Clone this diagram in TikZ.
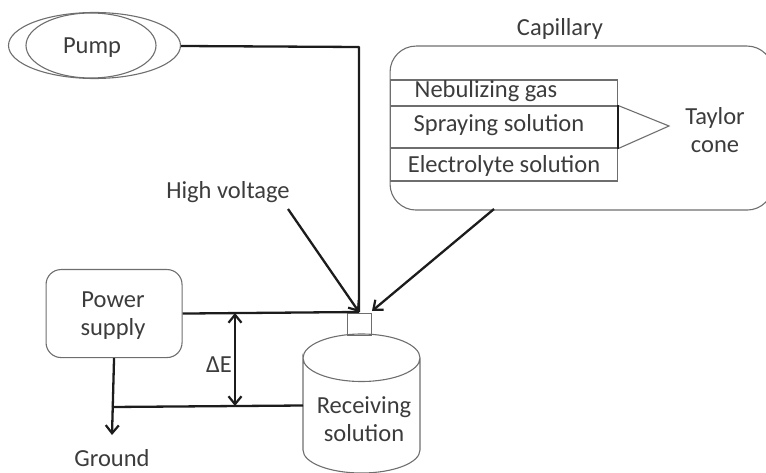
\documentclass[tikz,border=0pt]{standalone}
\usepackage{fontspec}
\setmainfont{Carlito}
\usetikzlibrary{arrows.meta,shapes.geometric}
\definecolor{txt}{HTML}{3C3C3C}
\definecolor{thin}{HTML}{6E6E6E}
\definecolor{heavy}{HTML}{1C1C1C}
\tikzset{
  lbl/.style={text=txt,font=\fontsize{24.5}{28}\selectfont,align=center,inner sep=0pt},
  outline/.style={draw=thin,line width=1.1pt},
  heavyline/.style={draw=heavy,line width=2.3pt},
  tip/.style={heavyline,-{Straight Barb[length=8pt,width=13pt,line width=2.2pt]}},
  tiptwo/.style={heavyline,{Straight Barb[length=8pt,width=13pt,line width=2.2pt]}-{Straight Barb[length=8pt,width=13pt,line width=2.2pt]}},
  pumpell/.style={outline,ellipse,minimum width=0pt,inner sep=0pt},
  wire/.style={heavyline,line join=round}
}
\begin{document}
\begin{tikzpicture}[x=1pt,y=-1pt]
\useasboundingbox (0,0) rectangle (766,473);
\clip (0,0) rectangle (766,473);
% pump
\node[pumpell,minimum width=172pt,minimum height=66pt] (pumpouter) at (94.5,45.5) {};
\node[pumpell,minimum width=130pt,minimum height=65pt] (pumpinner) at (91,45.5) {};
\node[lbl] (pumplabel) at (92,48) {Pump};
% capillary
\node[outline,rectangle,rounded corners=26pt,minimum width=383pt,minimum height=164pt,anchor=north west] (capbox) at (389.5,45.5) {};
\node[lbl] (caplabel) at (560,29) {Capillary};
\node[outline,rectangle,minimum width=227.5pt,minimum height=26pt,anchor=north west] (gas) at (389.5,79.5) {};
\node[outline,rectangle,minimum width=227.5pt,minimum height=42pt,anchor=north west] (spray) at (389.5,105.5) {};
\node[outline,rectangle,minimum width=227.5pt,minimum height=33pt,anchor=north west] (electro) at (389.5,147.5) {};
\node[lbl] (gaslabel) at (486,91) {Nebulizing gas};
\node[lbl] (spraylabel) at (499,125.5) {Spraying solution};
\node[lbl] (electrolabel) at (504,165.5) {Electrolyte solution};
\coordinate (conetip) at (669,126);
\draw[outline] (spray.north east) -- (conetip) -- (spray.south east);
\draw[draw=heavy,line width=1.6pt] (spray.north east) -- (spray.south east);
\node[lbl] (taylor) at (715,130) {Taylor\\cone};
% power supply
\node[outline,rectangle,rounded corners=15pt,minimum width=136pt,minimum height=88pt,anchor=north west] (power) at (45.5,269) {};
\node[lbl] (powerlabel) at (113,316) {Power\\supply};
% receiving vessel
\node[outline,rectangle,minimum width=24pt,minimum height=22pt,anchor=north west] (neck) at (346.5,312.5) {};
\draw[outline] (303,358) arc[start angle=180,end angle=360,x radius=58.5,y radius=24]
   arc[start angle=0,end angle=180,x radius=58.5,y radius=23.5] -- (303,450)
   arc[start angle=180,end angle=0,x radius=58.5,y radius=23] -- (420,358);
\coordinate (vessel) at (303,405.5);
\node[lbl] (recvlabel) at (364,419) {Receiving\\solution};
% labels
\node[lbl] (hv) at (228,192) {High voltage};
\node[lbl] (delta) at (219,365) {ΔE};
\node[lbl] (ground) at (112,458) {Ground};
% wires
\coordinate (pumpcorner) at (359,47);
\coordinate (junction) at (359,312);
\coordinate (hvstart) at (288,209);
\coordinate (capstart) at (494,209);
\coordinate (capend) at (372,311);
\coordinate (groundtip) at (112,435);
\coordinate (groundjoin) at (112,407);
\coordinate (detop) at (235,313);
\coordinate (debot) at (235,406);
\draw[wire] (pumpouter.east) ++(0,0.5) -- (pumpcorner) -- (junction);
\draw[tip] (hvstart) -- (junction);
\draw[tip] (capstart) -- (capend);
\draw[wire] (power.east) -- (junction);
\draw[tip] (power.south) -- (groundtip);
\draw[wire] (groundjoin) -- (vessel);
\draw[tiptwo] (detop) -- (debot);
\end{tikzpicture}
\end{document}
